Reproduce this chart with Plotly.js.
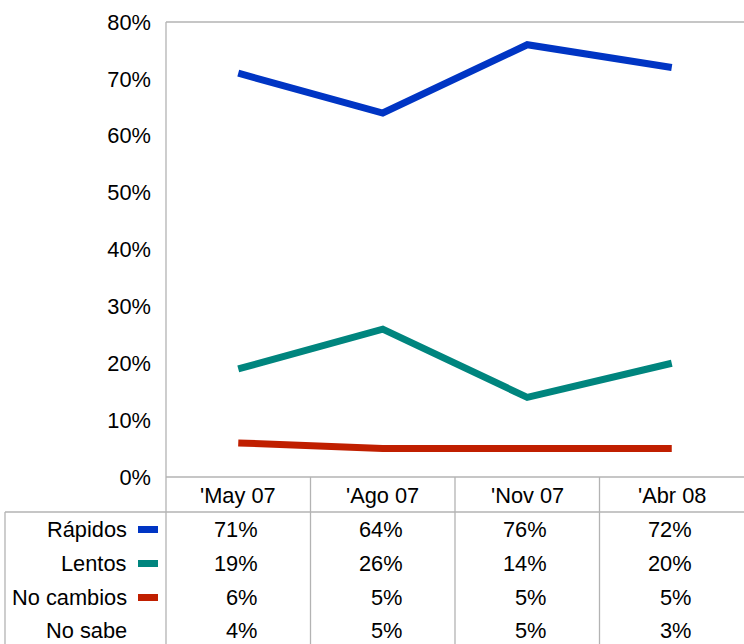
<!DOCTYPE html>
<html>
<head>
<meta charset="utf-8">
<script src="https://cdn.plot.ly/plotly-3.0.1.min.js"></script>
<style>html,body{margin:0;padding:0;background:#fff;}#chart{width:744px;height:644px;}</style>
</head>
<body>
<div id="chart"></div>
<script>
const categories = ["'May 07", "'Ago 07", "'Nov 07", "'Abr 08"];
const seriesNames = ["Rápidos", "Lentos", "No cambios", "No sabe"];
const rapidos = [0.71, 0.64, 0.76, 0.72];
const lentos = [0.19, 0.26, 0.14, 0.20];
const noCambios = [0.06, 0.05, 0.05, 0.05];
const noSabe = [0.04, 0.05, 0.05, 0.03];
const yTickVals = [0, 0.1, 0.2, 0.3, 0.4, 0.5, 0.6, 0.7, 0.8];
const yTickText = ["0%", "10%", "20%", "30%", "40%", "50%", "60%", "70%", "80%"];

const colors = ["#0035c4", "#00857e", "#c01f00", null];
const allSeries = [rapidos, lentos, noCambios, noSabe];
const plotted = [true, true, true, false];

const W = 744, H = 644;
const plotLeft = 166, plotRight = 744, plotTop = 22, plotBottom = 477;
const py = v => 1 - v / H;   // pixel y to paper
const px = v => v / W;       // pixel x to paper
const FONT = "Liberation Sans, Arial, sans-serif";
const FS = 21.8;
const grid = "#b3b3b3";

const traces = [];
allSeries.forEach((s, i) => {
  if (!plotted[i]) return;
  traces.push({
    x: categories, y: s, type: 'scatter', mode: 'lines', name: seriesNames[i],
    line: {color: colors[i], width: 7}, hoverinfo: 'skip'
  });
});

const rowY = [529, 563, 597, 630];
const headerY = 495;
const annotations = [];
categories.forEach((c, j) => {
  annotations.push({x: j, xref: 'x', y: py(headerY), yref: 'paper', text: c, showarrow: false,
    xanchor: 'center', yanchor: 'middle', font: {family: FONT, size: FS, color: '#000'}});
});
allSeries.forEach((s, i) => {
  annotations.push({x: px(129), xref: 'paper', y: py(rowY[i]), yref: 'paper', text: seriesNames[i], showarrow: false,
    xanchor: 'right', yanchor: 'middle', font: {family: FONT, size: FS, color: '#000'}});
  s.forEach((v, j) => {
    annotations.push({x: j, xref: 'x', y: py(rowY[i]), yref: 'paper', text: Math.round(v * 100) + '%', showarrow: false,
      xanchor: 'right', xshift: 22, yanchor: 'middle', font: {family: FONT, size: FS, color: '#000'}});
  });
});

const shapes = [];
const line = (x0, y0, x1, y1, xref) => ({type: 'line', xref: xref || 'paper', yref: 'paper',
  x0: x0, y0: y0, x1: x1, y1: y1, line: {color: grid, width: 1.3}});
// plot frame
shapes.push(line(px(plotLeft), py(plotTop), 1, py(plotTop)));
shapes.push(line(px(plotLeft), py(plotTop), px(plotLeft), 0));
shapes.push(line(px(plotLeft), py(plotBottom), 1, py(plotBottom)));
// table
shapes.push(line(px(5), py(512), 1, py(512)));
shapes.push(line(px(5), py(512), px(5), 0));
[0.5, 1.5, 2.5].forEach(b => shapes.push({type: 'line', xref: 'x', yref: 'paper', x0: b, x1: b,
  y0: py(plotBottom), y1: 0, line: {color: grid, width: 1.3}}));
// legend keys
allSeries.forEach((s, i) => {
  if (!colors[i]) return;
  shapes.push({type: 'rect', xref: 'paper', yref: 'paper', x0: px(138), x1: px(158),
    y0: py(rowY[i] + 4), y1: py(rowY[i] - 3), fillcolor: colors[i], line: {width: 0}});
});

const layout = {
  width: W, height: H, margin: {l: 0, r: 0, t: 0, b: 0},
  paper_bgcolor: '#fff', plot_bgcolor: '#fff', showlegend: false,
  font: {family: FONT, size: FS, color: '#000'},
  xaxis: {domain: [px(plotLeft), px(plotRight)], type: 'category', range: [-0.5, 3.5],
    showticklabels: false, showgrid: false, zeroline: false, showline: false, ticks: ''},
  yaxis: {domain: [py(plotBottom), py(plotTop)], range: [0, 0.8], tickvals: yTickVals, ticktext: yTickText,
    showgrid: false, zeroline: false, showline: false, ticks: '', ticklabelstandoff: 14,
    tickfont: {family: FONT, size: FS, color: '#000'}},
  annotations: annotations, shapes: shapes
};

Plotly.newPlot('chart', traces, layout, {displayModeBar: false, staticPlot: true});
</script>
</body>
</html>
